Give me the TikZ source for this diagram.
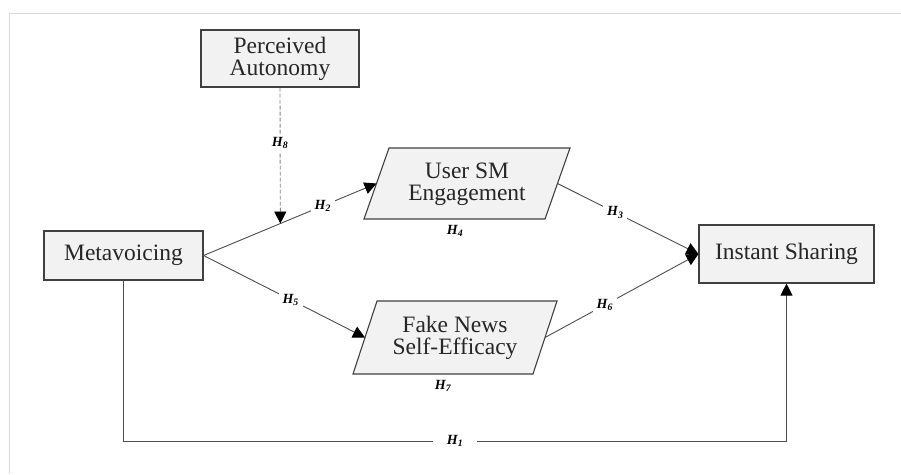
\documentclass[tikz,border=0pt]{standalone}
\usepackage{fontspec}
\setmainfont{Liberation Serif}
\usetikzlibrary{arrows.meta}
\definecolor{boxfill}{HTML}{F2F2F2}
\definecolor{boxline}{HTML}{404040}
\definecolor{linec}{HTML}{4D4D4D}
\definecolor{dashc}{HTML}{808080}
\definecolor{framec}{HTML}{D9D9D9}
\begin{document}
\begin{tikzpicture}[x=1pt,y=-1pt,
  boxtxt/.style={font=\fontsize{23.5}{22}\selectfont, align=center, inner sep=0pt, text=black!85},
  box/.style={boxtxt, draw=boxline, fill=boxfill, line width=1.1pt},
  pgram/.style={draw=boxline, fill=boxfill, line width=1.1pt},
  conn/.style={draw=linec, line width=0.9pt},
  tip/.style={-{Triangle[length=12pt,width=12pt,color=black]}},
  hl/.style={fill=white, inner sep=4pt, font=\fontsize{14}{14}\selectfont\bfseries\itshape},
  hfree/.style={inner sep=1pt, font=\fontsize{14}{14}\selectfont\bfseries\itshape}]
\useasboundingbox (0,0) rectangle (901,474);
\draw[framec, line width=1pt] (9,474) -- (9,13) -- (901,13);

% rectangular boxes
\node[box, minimum width=158pt, minimum height=57pt] (pa) at (280,58.5) {Perceived\\Autonomy};
\node[box, minimum width=159pt, minimum height=49pt] (mv) at (123.5,255.5) {Metavoicing};
\node[box, minimum width=175pt, minimum height=58pt] (is) at (786.5,254) {Instant Sharing};

% parallelograms
\draw[pgram] (364,219) -- (389,148) -- (570,148) -- (545,219) -- cycle;
\node[boxtxt] (um) at (467,184) {User SM\\Engagement};
\coordinate (umL) at (376.5,183.5);
\coordinate (umR) at (557.5,183.5);

\draw[pgram] (353,374) -- (377,301) -- (557,301) -- (533,374) -- cycle;
\node[boxtxt] (fn) at (455,337.5) {Fake News\\Self-Efficacy};
\coordinate (fnL) at (365,337.5);
\coordinate (fnR) at (545,337.5);

% labels under parallelograms
\node[hfree] (h4) at (455,231) {H\textsubscript{4}};
\node[hfree] (h7) at (443,386) {H\textsubscript{7}};

% connectors
\draw[conn,tip] (mv.east) -- node[hl,pos=0.69] {H\textsubscript{2}} (umL);
\path (mv.east) -- coordinate[pos=0.444] (j) (umL);
\draw[draw=dashc, line width=0.9pt, dash pattern=on 4pt off 2pt, tip] (pa.south) -- node[hl,pos=0.41] {H\textsubscript{8}} (j);
\draw[conn,tip] (mv.east) -- node[hl,pos=0.54] {H\textsubscript{5}} (fnL);
\draw[conn,tip] (umR) -- node[hl,pos=0.41] {H\textsubscript{3}} (is.west);
\draw[conn,tip] (fnR) -- node[hl,pos=0.39] {H\textsubscript{6}} (is.west);
\coordinate (b) at (123.5,441);
\draw[conn,tip] (mv.south) -- (b) -| node[hl,pos=0.25,inner xsep=14pt] {H\textsubscript{1}} (is.south);
\end{tikzpicture}
\end{document}
